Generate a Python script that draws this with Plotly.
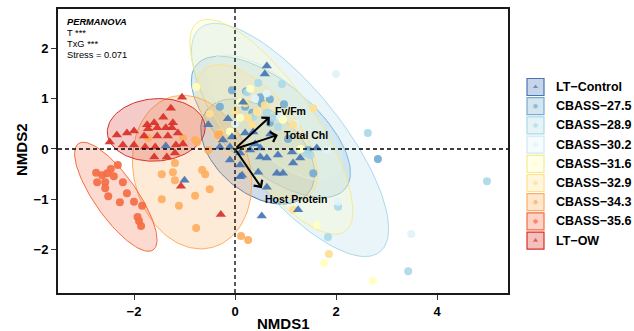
import numpy as np
import plotly.graph_objects as go

# ---------------- data ----------------
groups = ["LT\u2212Control", "CBASS\u221227.5", "CBASS\u221228.9", "CBASS\u221230.2",
          "CBASS\u221231.6", "CBASS\u221232.9", "CBASS\u221234.3", "CBASS\u221235.6", "LT\u2212OW"]
colors = ["#4575b4", "#74add1", "#abd9e9", "#e0f3f8", "#ffffbf", "#fee090", "#fdae61", "#f46d43", "#d73027"]
symbols = ["triangle-up", "circle", "circle", "circle", "circle", "circle", "circle", "circle", "triangle-up"]

lt_control_x = [0.63, 0.59, 0.16, -0.14, -0.53, -0.06, -0.24, -0.3, -0.1, 0.1, 0.3, 0.5, 0.36, 0.2, 0.1, 0.5, 0.63,
                 0.85, 1.13, 1.15, 1.29, 1.62, 0.14, 0.46, 0.83, 0.95, 0.63, -0.1, 0.53, 1.25, -1.37, -1.0, 0.1, 0.4, 0.7]
lt_control_y = [1.65, 1.49, 0.93, 0.6, 0.48, 0.24, 0.18, 0.04, 0.04, -0.08, -0.02, 0.02, 0.34, 0.32, -0.32, -0.16, -0.18,
                -0.12, -0.06, -0.28, -0.18, 0.02, -0.52, -0.46, -0.48, -0.48, -0.76, -0.22, -1.33, -1.21, 0.06, -0.62, -0.55, 0.1, 0.3]

c275_x = [-0.06, 0.69, 0.97, -0.3, 0.34, 0.69, 0.5, 1.55, 1.45, 0.2, 0.53, 2.83, 0.22, 1.05]
c275_y = [1.17, 0.99, 0.89, 0.84, 0.72, 0.52, 1.03, -0.48, -0.02, 0.84, 0.91, -0.2, 1.15, 0.2]

c289_x = [2.63, 4.99, 3.43, 1.84, 2.04, 0.46, 0.93, 0.24, 0.63, 0.75, 0.85, 0.36, 1.39, 1.49]
c289_y = [0.32, -0.64, -2.43, -1.75, -1.15, 1.31, 1.29, 1.13, 0.72, 0.62, 0.44, 0.64, -0.08, -0.12]

c302_x = [2.0, 3.49, 2.04, 0.89, 0.63, 1.82, 0.4, 1.2, 0.0]
c302_y = [1.49, -1.69, -1.05, 0.64, 1.11, -0.02, 1.0, 0.5, 0.5]

c316_x = [-0.77, 1.62, 1.76, 2.73, 0.1, 0.44, 0.1, 0.95, 0.3, 1.3, -0.1]
c316_y = [1.23, -1.51, -2.27, -2.62, 0.93, 0.74, 0.62, 0.58, 1.2, 0.0, 0.35]

c329_x = [1.55, 1.86, 1.15, 0.2, 0.26, 0.34, 0.59, 0.43, -0.3, -0.5, 0.0, 1.15]
c329_y = [0.81, -2.09, -1.21, 0.91, 0.62, 0.48, 0.87, 0.74, 0.32, 0.7, 0.75, 0.48]

c343_x = [-1.72, -0.75, -0.31, -1.03, -1.45, -1.23, -1.19, -1.19, -0.65, -0.59, -0.5, -0.79, -1.11, -1.45,
          -0.77, -0.53, 0.12, 0.26, -0.79, -0.34]
c343_y = [0.22, 0.14, 0.3, 0.22, -0.5, -0.46, -0.62, -0.28, -0.42, -0.5, -0.8, -0.93, -1.13, -1.0,
          -1.57, -0.02, -1.73, -1.81, 0.18, 0.28]

c356_x = [-2.75, -2.73, -2.63, -2.53, -2.46, -2.32, -2.4, -2.57, -2.57, -2.51, -2.22, -2.14, -2.28, -2.0,
          -1.84, -1.93, -1.9, -1.86]
c356_y = [-0.47, -0.66, -0.52, -0.48, -0.4, -0.32, -0.54, -0.66, -0.78, -0.94, -0.66, -0.88, -1.06, -1.05,
          -1.13, -1.35, -1.43, -1.53]

lt_ow_x = [-1.05, -1.27, -1.42, -1.6, -1.74, -1.23, -1.25, -1.37, -1.54, -1.72, -2.0, -2.14, -2.34, -2.48,
           -2.22, -2.0, -1.8, -1.54, -1.33, -1.13, -1.03, -1.17, -1.58, -1.78, -1.6, -1.35, -1.19, -1.07, -0.28]
lt_ow_y = [1.03, 0.81, 0.63, 0.52, 0.48, 0.52, 0.42, 0.42, 0.42, 0.4, 0.36, 0.32, 0.28, 0.14,
           0.08, 0.08, 0.26, 0.26, 0.26, 0.32, 0.1, 0.08, 0.04, 0.04, -0.16, -0.16, -0.08, -0.74, -1.3]

points_x = [lt_control_x, c275_x, c289_x, c302_x, c316_x, c329_x, c343_x, c356_x, lt_ow_x]
points_y = [lt_control_y, c275_y, c289_y, c302_y, c316_y, c329_y, c343_y, c356_y, lt_ow_y]

# 95% ellipse parameters per group: centre x, centre y, semi-major, semi-minor, angle (deg)
ell_cx = [0.45, 0.71, 1.09, 0.79, 0.72, 0.44, -0.85, -2.36, -1.56]
ell_cy = [-0.05, 0.44, 0.18, 0.62, 0.44, 0.34, -0.46, -0.95, 0.38]
ell_a = [1.30, 1.92, 2.85, 1.70, 2.54, 1.63, 1.55, 1.29, 0.97]
ell_b = [0.82, 0.88, 1.03, 0.70, 0.85, 0.76, 1.15, 0.42, 0.62]
ell_ang = [-40, -40, -51.4, -42, -55, -50, -75, -55, 4]

# env-fit vectors
vec_names = ["Fv/Fm", "Total Chl", "Host Protein"]
vec_x = [0.69, 0.85, 0.53]
vec_y = [0.64, 0.28, -0.78]
vec_lab_x = [0.75, 0.93, 0.55]
vec_lab_y = [0.75, 0.28, -1.0]

stats_lines = ["<b><i>PERMANOVA</i></b>", "T ***", "TxG ***", "Stress = 0.071"]

x_ticks = [-2, 0, 2, 4]
y_ticks = [-2, -1, 0, 1, 2]

# ---------------- figure ----------------
W, H = 634, 331
FONT = "Liberation Sans, Arial, Helvetica, sans-serif"


def hex_rgba(h, a):
    h = h.lstrip("#")
    return "rgba(%d,%d,%d,%.3f)" % (int(h[0:2], 16), int(h[2:4], 16), int(h[4:6], 16), a)


def outline(c):
    return {"#ffffbf": "#f5ec8a", "#e0f3f8": "#cfe9f2"}.get(c, c)


fig = go.Figure()

t = np.linspace(0, 2 * np.pi, 120)
for i, g in enumerate(groups):
    th = np.deg2rad(ell_ang[i])
    ex = ell_cx[i] + ell_a[i] * np.cos(t) * np.cos(th) - ell_b[i] * np.sin(t) * np.sin(th)
    ey = ell_cy[i] + ell_a[i] * np.cos(t) * np.sin(th) + ell_b[i] * np.sin(t) * np.cos(th)
    fig.add_trace(go.Scatter(x=ex, y=ey, mode="lines", fill="toself",
                             fillcolor=hex_rgba(colors[i], 0.25),
                             line=dict(color=outline(colors[i]), width=1),
                             hoverinfo="skip", showlegend=False))

draw_order = [1, 2, 3, 4, 5, 6, 7, 0, 8]
for i in draw_order:
    fig.add_trace(go.Scatter(x=points_x[i], y=points_y[i], mode="markers",
                             marker=dict(color=colors[i], symbol=symbols[i],
                                         size=8 if symbols[i] == "circle" else 9,
                                         line=dict(width=0), opacity=0.92),
                             name=groups[i], showlegend=False))

shapes = [
    dict(type="line", xref="x", yref="y domain", x0=0, x1=0, y0=0, y1=1,
         line=dict(color="black", width=1.3, dash="4px,3px"), layer="above"),
    dict(type="line", xref="x domain", yref="y", x0=0, x1=1, y0=0, y1=0,
         line=dict(color="black", width=1.3, dash="4px,3px"), layer="above"),
]

annotations = []
for i, nm in enumerate(vec_names):
    annotations.append(dict(x=vec_x[i], y=vec_y[i], ax=0, ay=0, xref="x", yref="y", axref="x", ayref="y",
                            showarrow=True, arrowhead=4, arrowsize=1.0, arrowwidth=2, arrowcolor="black",
                            text=""))
    annotations.append(dict(x=vec_lab_x[i], y=vec_lab_y[i], xref="x", yref="y", showarrow=False,
                            xanchor="left", yanchor="middle", text="<b>%s</b>" % nm,
                            font=dict(family=FONT, size=10.5, color="black")))

# statistics text block
for k, s in enumerate(stats_lines):
    annotations.append(dict(x=65 / W, y=1 - (22 + 11 * k) / H, xref="paper", yref="paper",
                            showarrow=False, xanchor="left", yanchor="middle", text=s,
                            font=dict(family=FONT, size=9.3, color="black")))

# axis titles
annotations.append(dict(x=283 / W, y=1 - 323 / H, xref="paper", yref="paper", showarrow=False,
                        xanchor="center", yanchor="middle",
                        text="<b>NMDS1</b>", font=dict(family=FONT, size=15, color="black")))
annotations.append(dict(x=21 / W, y=1 - 150 / H, xref="paper", yref="paper", showarrow=False,
                        xanchor="center", yanchor="middle",
                        text="<b>NMDS2</b>", textangle=-90, font=dict(family=FONT, size=15, color="black")))

# custom legend (x2/y2 axes in pixel units)
key_x0, key_size, leg_y0, leg_step = 527, 17, 87, 19.2
for i, g in enumerate(groups):
    yc = leg_y0 + i * leg_step
    shapes.append(dict(type="rect", xref="x2", yref="y2", x0=key_x0, x1=key_x0 + key_size,
                       y0=yc - key_size / 2, y1=yc + key_size / 2,
                       fillcolor=hex_rgba(colors[i], 0.3),
                       line=dict(color=outline(colors[i]), width=1.2)))
    annotations.append(dict(x=554, y=yc, xref="x2", yref="y2", showarrow=False, xanchor="left",
                            yanchor="middle", text="<b>%s</b>" % g,
                            font=dict(family=FONT, size=12.5, color="black")))
fig.add_trace(go.Scatter(x=[key_x0 + key_size / 2] * len(groups),
                         y=[leg_y0 + i * leg_step for i in range(len(groups))],
                         xaxis="x2", yaxis="y2", mode="markers",
                         marker=dict(color=colors, symbol=symbols, size=[6 if s == "triangle-up" else 5.5 for s in symbols]),
                         showlegend=False, hoverinfo="skip"))

axis_common = dict(showline=True, mirror=True, linecolor="#1a1a1a", linewidth=2,
                   ticks="outside", ticklen=5, tickwidth=1.3, tickcolor="#333333",
                   showgrid=False, zeroline=False, automargin=False,
                   tickfont=dict(family=FONT, size=13, color="black", weight="bold"))

x0p = -3.505
x1p = 5.406
y0p = -2.863
y1p = 2.783

fig.update_layout(
    width=W, height=H, margin=dict(l=0, r=0, t=0, b=0),
    paper_bgcolor="white", plot_bgcolor="white",
    showlegend=False,
    xaxis=dict(domain=[58 / W, 508 / W], range=[x0p, x1p], tickvals=x_ticks, anchor="y", **axis_common),
    yaxis=dict(domain=[(H - 293) / H, (H - 9) / H], range=[y0p, y1p], tickvals=y_ticks, anchor="x", **axis_common),
    xaxis2=dict(domain=[515 / W, 1.0], range=[515, W], visible=False, anchor="y2", fixedrange=True),
    yaxis2=dict(domain=[0, 1], range=[H, 0], visible=False, anchor="x2", fixedrange=True),
    shapes=shapes, annotations=annotations,
)

fig.write_html("out.html")
